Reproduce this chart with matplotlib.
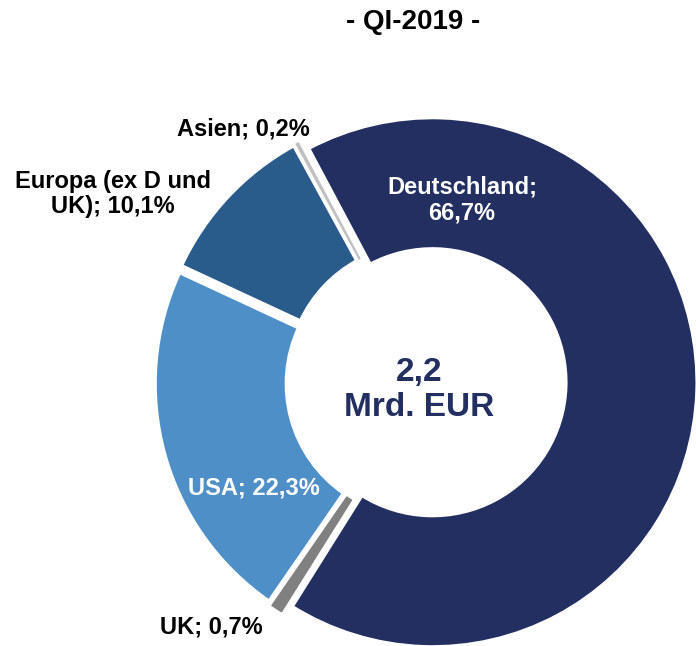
import matplotlib.pyplot as plt

plt.rcParams["font.family"] = ["Liberation Sans", "DejaVu Sans"]

# data
regions = ["Deutschland", "UK", "USA", "Europa (ex D und UK)", "Asien"]
shares = [66.7, 0.7, 22.3, 10.1, 0.2]
colors = ["#222F60", "#808080", "#4E8FC7", "#295B8B", "#BFBFBF"]
title = "- QI-2019 -"
total_label = "2,2\nMrd. EUR"

W, H = 696, 646


def py(y):
    # pixel row from the top -> data y
    return H - y


fig = plt.figure(figsize=(W / 100, H / 100), dpi=100)
ax = fig.add_axes([0, 0, 1, 1])

# explode is in data units here (1 unit = 1 px)
wedges, _ = ax.pie(
    shares,
    colors=colors,
    startangle=118,
    counterclock=False,
    center=(426, py(382)),
    radius=265,
    explode=[6.5] * len(shares),
    wedgeprops=dict(width=132, edgecolor="white", linewidth=3),
)

# tiny slices on top so the white borders of their neighbours don't hide them
for w, val, c in zip(wedges, shares, colors):
    if val < 1:
        w.set_edgecolor(c)
        w.set_linewidth(0.8 if val > 0.5 else 0.3)
        w.set_zorder(5)

ax.set_xlim(0, W)
ax.set_ylim(0, H)
ax.set_aspect("equal")
ax.axis("off")

bold = dict(fontweight="bold", ha="center", va="center")

ax.text(413, py(22), title, fontsize=20, color="black", **bold)
ax.text(419, py(390), total_label, fontsize=24, color="#222F60",
        linespacing=1.2, **bold)

ax.text(462, py(200), "Deutschland;\n66,7%", fontsize=17, color="white",
        linespacing=1.15, **bold)
ax.text(254, py(488), "USA; 22,3%", fontsize=17, color="white", **bold)
ax.text(113, py(194), "Europa (ex D und\nUK); 10,1%", fontsize=17,
        color="black", linespacing=1.15, **bold)
ax.text(243, py(129), "Asien; 0,2%", fontsize=17, color="black", **bold)
ax.text(211, py(627), "UK; 0,7%", fontsize=17, color="black", **bold)

fig.savefig("out.png", dpi=100)
